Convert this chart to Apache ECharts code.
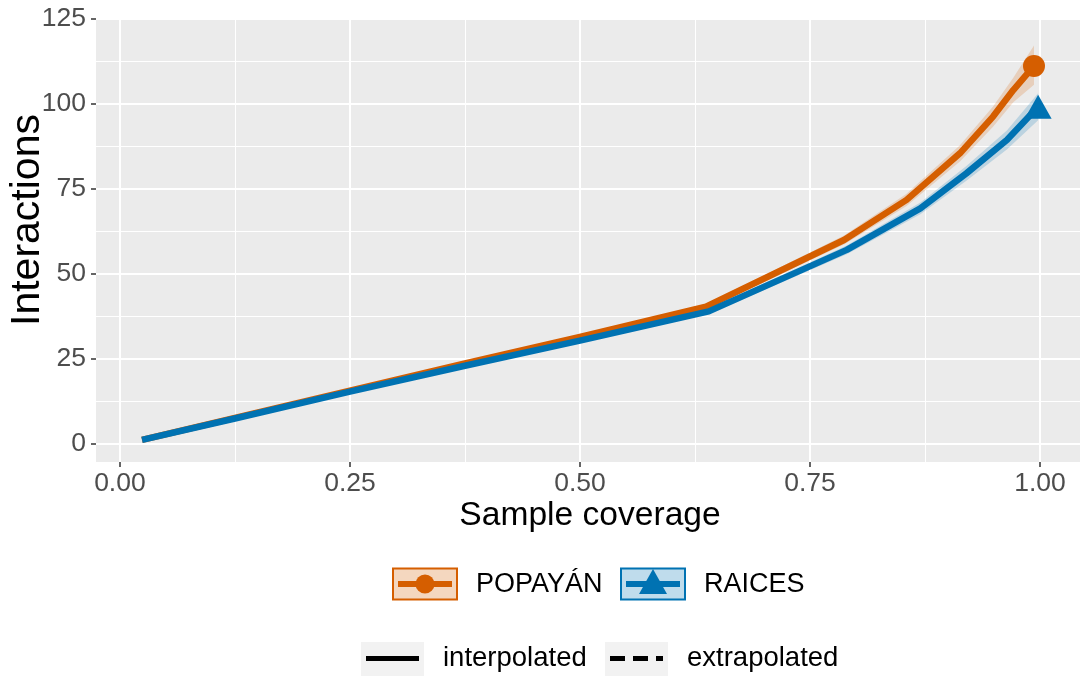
<!DOCTYPE html>
<html>
<head>
<meta charset="utf-8">
<script src="https://cdn.jsdelivr.net/npm/echarts@6/dist/echarts.min.js"></script>
<style>html,body{margin:0;padding:0;background:#fff}#c{width:1080px;height:676px}</style>
</head>
<body>
<div id="c"></div>
<script>
// ---- data ----
const popX  = [0.024, 0.125, 0.25, 0.375, 0.5, 0.637, 0.787, 0.855, 0.913, 0.949, 0.971, 0.9935];
const popY  = [1.0, 7.5, 15.5, 23.5, 31.3, 40.2, 59.8, 71.6, 85.3, 96.1, 103.9, 111.0];
const popLo = [0.9, 7.2, 15.0, 22.9, 30.6, 39.4, 58.5, 69.8, 82.9, 93.1, 100.3, 105.5];
const popHi = [1.1, 7.8, 16.0, 24.1, 32.0, 41.0, 61.1, 73.4, 87.7, 99.1, 107.5, 117.0];
const raiX  = [0.024, 0.125, 0.25, 0.375, 0.5, 0.64, 0.79, 0.87, 0.92, 0.964, 0.998];
const raiY  = [1.0, 7.3, 15.2, 22.8, 30.2, 38.8, 56.9, 69.1, 79.4, 89.2, 99.0];
const raiLo = [0.9, 7.0, 14.7, 22.2, 29.5, 38.0, 55.6, 67.4, 77.2, 86.4, 95.0];
const raiHi = [1.1, 7.6, 15.7, 23.4, 30.9, 39.6, 58.2, 70.8, 81.6, 92.0, 103.0];
const xTicks = [0, 0.25, 0.5, 0.75, 1.0];
const xMinor = [0.125, 0.375, 0.625, 0.875];
const yTicks = [0, 25, 50, 75, 100, 125];
const yMinor = [12.5, 37.5, 62.5, 87.5, 112.5];
const names = ['POPAYÁN', 'RAICES'];
const colPop = '#D55E00', colRai = '#0072B2';

const FONT = '"Liberation Sans", Arial, Helvetica, sans-serif';
const XMIN = -0.026, XMAX = 1.0435, YMIN = -5.5, YMAX = 125.1;

function bandSeries(xs, lo, hi, color) {
  return {
    type: 'custom', xAxisIndex: 0, yAxisIndex: 0, silent: true, z: 1,
    data: xs.map((x, i) => [x, lo[i], hi[i]]),
    encode: { x: 0, y: [1, 2] },
    renderItem: function (params, api) {
      if (params.dataIndex !== 0) return null;
      const pts = [];
      for (let i = 0; i < xs.length; i++) pts.push(api.coord([xs[i], hi[i]]));
      for (let i = xs.length - 1; i >= 0; i--) pts.push(api.coord([xs[i], lo[i]]));
      return { type: 'polygon', shape: { points: pts }, style: { fill: color } };
    }
  };
}

const chart = echarts.init(document.getElementById('c'), null, { renderer: 'canvas' });
const baseAxisLabel = { color: '#4D4D4D', fontSize: 26.5, fontFamily: FONT };
const option = {
  animation: false,
  backgroundColor: '#ffffff',
  grid: { left: 96, right: 0, top: 18, bottom: 214, show: true, backgroundColor: '#EBEBEB', borderWidth: 0 },
  xAxis: [
    {
      type: 'value', min: XMIN, max: XMAX, position: 'bottom',
      axisLine: { show: false, onZero: false },
      axisTick: { show: true, length: 5, lineStyle: { color: '#333333', width: 1.5 }, customValues: xTicks },
      axisLabel: Object.assign({ margin: 8, customValues: xTicks, formatter: v => v.toFixed(2) }, baseAxisLabel),
      splitLine: { show: true, lineStyle: { color: '#ffffff', width: 2 } },
      z: 2
    },
    {
      type: 'value', min: XMIN, max: XMAX, position: 'bottom',
      axisLine: { show: false, onZero: false },
      axisTick: { show: false, customValues: xMinor },
      axisLabel: { show: false, customValues: xMinor },
      splitLine: { show: true, lineStyle: { color: '#ffffff', width: 1 } }
    }
  ],
  yAxis: [
    {
      type: 'value', min: YMIN, max: YMAX, position: 'left',
      axisLine: { show: false, onZero: false },
      axisTick: { show: true, length: 5, lineStyle: { color: '#333333', width: 1.5 }, customValues: yTicks },
      axisLabel: Object.assign({ margin: 10, customValues: yTicks }, baseAxisLabel),
      splitLine: { show: true, lineStyle: { color: '#ffffff', width: 2 } }
    },
    {
      type: 'value', min: YMIN, max: YMAX, position: 'left',
      axisLine: { show: false, onZero: false },
      axisTick: { show: false, customValues: yMinor },
      axisLabel: { show: false, customValues: yMinor },
      splitLine: { show: true, lineStyle: { color: '#ffffff', width: 1 } }
    }
  ],
  series: [
    bandSeries(popX, popLo, popHi, 'rgba(213,94,0,0.2)'),
    bandSeries(raiX, raiLo, raiHi, 'rgba(0,114,178,0.2)'),
    {
      name: names[0], type: 'line', z: 3, showSymbol: false, symbol: 'none',
      data: popX.map((x, i) => [x, popY[i]]),
      lineStyle: { color: colPop, width: 6.5, join: 'round' }
    },
    {
      name: names[1], type: 'line', z: 4, showSymbol: false, symbol: 'none',
      data: raiX.map((x, i) => [x, raiY[i]]),
      lineStyle: { color: colRai, width: 6.5, join: 'round' }
    },
    {
      type: 'scatter', z: 5, symbol: 'circle', symbolSize: 22,
      data: [[popX[popX.length - 1], popY[popY.length - 1]]],
      itemStyle: { color: colPop, opacity: 1 }
    },
    {
      type: 'scatter', z: 5, symbol: 'triangle', symbolSize: [27, 24],
      data: [[raiX[raiX.length - 1], raiY[raiY.length - 1]]],
      itemStyle: { color: colRai, opacity: 1 }
    }
  ],
  graphic: [
    // axis titles
    { type: 'text', x: 590, y: 516, style: { text: 'Sample coverage', fill: '#000', font: '33.6px ' + FONT, align: 'center', verticalAlign: 'middle' } },
    { type: 'text', x: 28, y: 220, rotation: Math.PI / 2, style: { text: 'Interactions', fill: '#000', font: '41px ' + FONT, align: 'center', verticalAlign: 'middle' } },
    // legend row 1
    { type: 'rect', shape: { x: 393, y: 568.5, width: 64, height: 31 }, style: { fill: 'rgba(213,94,0,0.25)', stroke: colPop, lineWidth: 2 } },
    { type: 'line', shape: { x1: 398, y1: 584, x2: 452, y2: 584 }, style: { stroke: colPop, lineWidth: 6 } },
    { type: 'circle', shape: { cx: 425, cy: 584, r: 9.5 }, style: { fill: colPop } },
    { type: 'text', x: 476, y: 585, style: { text: names[0], fill: '#000', font: '27px ' + FONT, align: 'left', verticalAlign: 'middle' } },
    { type: 'rect', shape: { x: 621, y: 568.5, width: 64, height: 31 }, style: { fill: 'rgba(0,114,178,0.25)', stroke: colRai, lineWidth: 2 } },
    { type: 'line', shape: { x1: 626, y1: 584, x2: 680, y2: 584 }, style: { stroke: colRai, lineWidth: 6 } },
    { type: 'polygon', shape: { points: [[653, 569], [667, 594], [639, 594]] }, style: { fill: colRai } },
    { type: 'text', x: 704, y: 585, style: { text: names[1], fill: '#000', font: '27px ' + FONT, align: 'left', verticalAlign: 'middle' } },
    // legend row 2
    { type: 'rect', shape: { x: 361, y: 642, width: 63, height: 36 }, style: { fill: '#F2F2F2' } },
    { type: 'line', shape: { x1: 366, y1: 658.5, x2: 419, y2: 658.5 }, style: { stroke: '#000', lineWidth: 5 } },
    { type: 'text', x: 443, y: 658, style: { text: 'interpolated', fill: '#000', font: '27.5px ' + FONT, align: 'left', verticalAlign: 'middle' } },
    { type: 'rect', shape: { x: 605, y: 642, width: 63, height: 36 }, style: { fill: '#F2F2F2' } },
    { type: 'line', shape: { x1: 610, y1: 658.5, x2: 663, y2: 658.5 }, style: { stroke: '#000', lineWidth: 5, lineDash: [15, 8] } },
    { type: 'text', x: 687, y: 658, style: { text: 'extrapolated', fill: '#000', font: '27.5px ' + FONT, align: 'left', verticalAlign: 'middle' } }
  ]
};
chart.setOption(option);
</script>
</body>
</html>
